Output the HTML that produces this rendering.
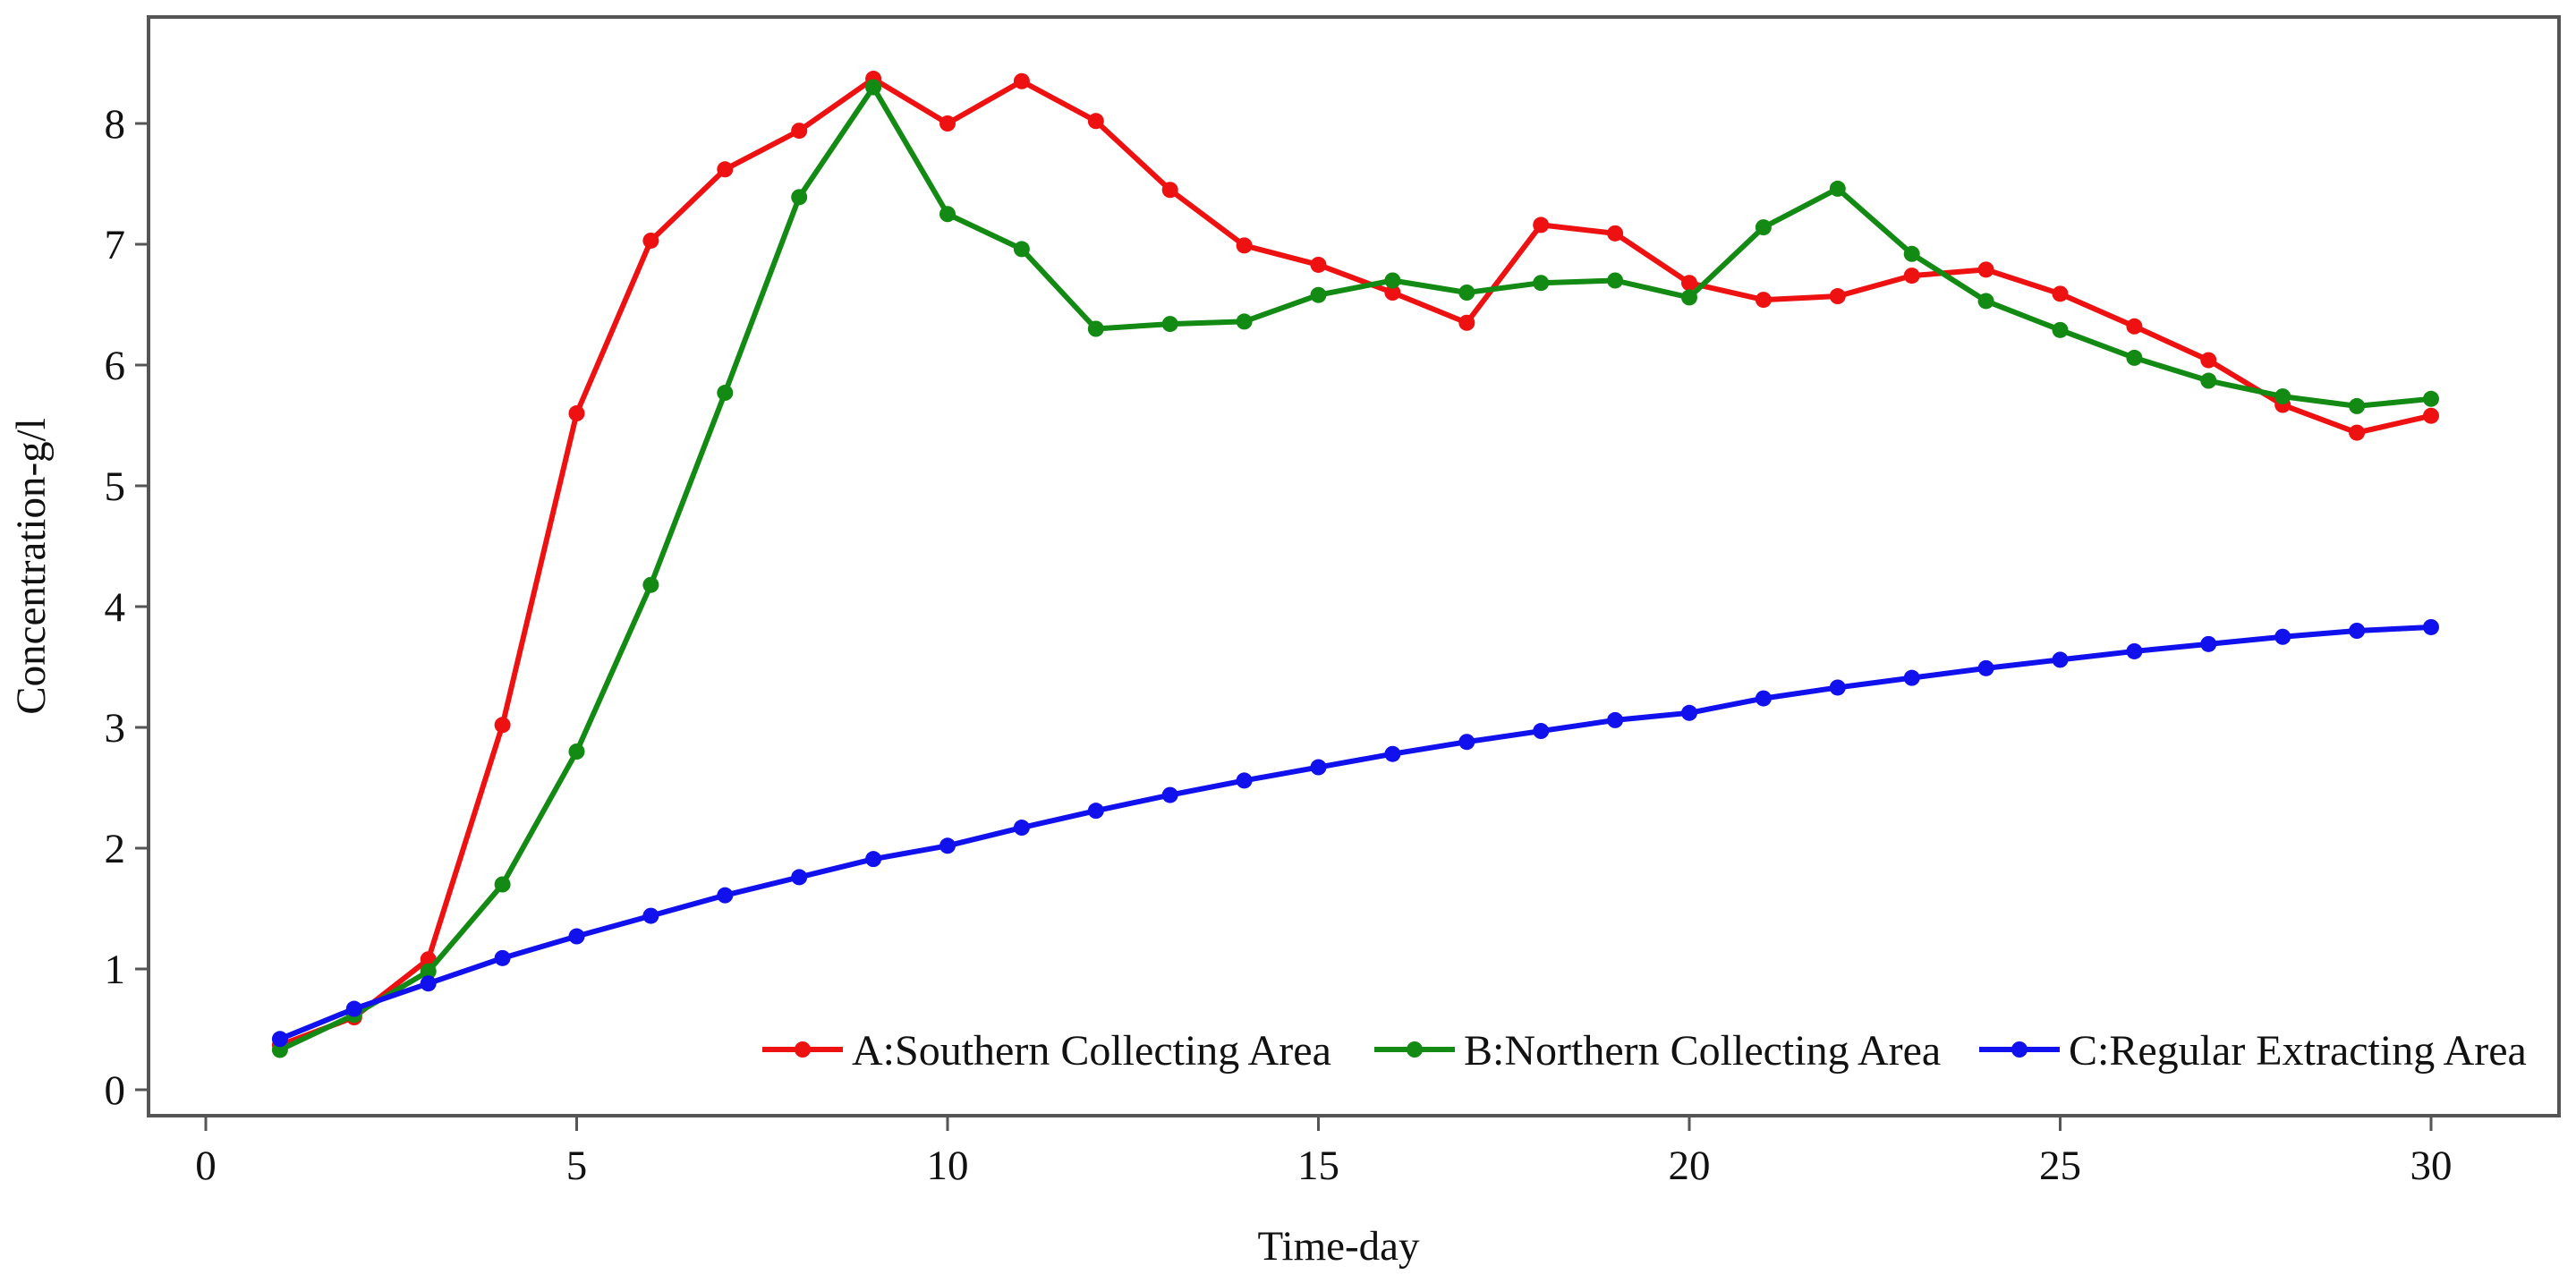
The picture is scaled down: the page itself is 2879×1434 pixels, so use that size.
<!DOCTYPE html>
<html><head><meta charset="utf-8"><style>
html,body{margin:0;padding:0;background:#fff;}
svg{display:block;font-family:"Liberation Serif",serif;}
</style></head><body>
<svg id="chart" width="2879" height="1434" viewBox="0 0 2879 1434">
<rect x="166" y="19" width="2694" height="1228" fill="#fff" stroke="#555" stroke-width="4"/>
<g id="axes"></g>
<g id="series"></g>
<g id="legend"></g>
<text x="1496" y="1408" font-size="47" text-anchor="middle" fill="#111">Time-day</text>
<text x="0" y="0" font-size="47" text-anchor="middle" fill="#111" transform="translate(50,633) rotate(-90)">Concentration-g/l</text>
</svg>
<script>
const days = [1,2,3,4,5,6,7,8,9,10,11,12,13,14,15,16,17,18,19,20,21,22,23,24,25,26,27,28,29,30];
const seriesA = [0.37,0.6,1.08,3.02,5.6,7.03,7.62,7.94,8.37,8.0,8.35,8.02,7.45,6.99,6.83,6.6,6.35,7.16,7.09,6.68,6.54,6.57,6.74,6.79,6.59,6.32,6.04,5.67,5.44,5.58];
const seriesB = [0.33,0.62,0.98,1.7,2.8,4.18,5.77,7.39,8.3,7.25,6.96,6.3,6.34,6.36,6.58,6.7,6.6,6.68,6.7,6.56,7.14,7.46,6.92,6.53,6.29,6.06,5.87,5.74,5.66,5.72];
const seriesC = [0.42,0.67,0.88,1.09,1.27,1.44,1.61,1.76,1.91,2.02,2.17,2.31,2.44,2.56,2.67,2.78,2.88,2.97,3.06,3.12,3.24,3.33,3.41,3.49,3.56,3.63,3.69,3.75,3.8,3.83];
const xTicks = [0,5,10,15,20,25,30];
const yTicks = [0,1,2,3,4,5,6,7,8];
const seriesNames = ["A:Southern Collecting Area","B:Northern Collecting Area","C:Regular Extracting Area"];

const NS = "http://www.w3.org/2000/svg";
function xs(d){ return 230 + 82.9*d; }
function ys(v){ return 1218 - 135*v; }
function mk(tag, attrs, parent){ const e=document.createElementNS(NS,tag); for(const k in attrs) e.setAttribute(k,attrs[k]); parent.appendChild(e); return e; }

const axes = document.getElementById('axes');
xTicks.forEach(t=>{
  const l = mk('line',{x1:xs(t),x2:xs(t),y1:1249,y2:1264,stroke:'#555','stroke-width':3},axes);
  
  
  const tx = mk('text',{x:xs(t),y:1318,'font-size':47,'text-anchor':'middle',fill:'#111'},axes);
  tx.textContent = t;
  
  
});
yTicks.forEach(t=>{
  const l = mk('line',{x1:151,x2:166,y1:ys(t),y2:ys(t),stroke:'#555','stroke-width':3},axes);
  
  
  const tx = mk('text',{x:140,y:ys(t)+16,'font-size':47,'text-anchor':'end',fill:'#111'},axes);
  tx.textContent = t;
  
  
});

const colors = ['#ee1111','#138a13','#1111ee'];
const data = [seriesA, seriesB, seriesC];
const sg = document.getElementById('series');
data.forEach((s,i)=>{
  const g = mk('g',{},sg);
  
  
  const pts = s.map((v,j)=>xs(days[j])+','+ys(v)).join(' ');
  const pl = mk('polyline',{points:pts,fill:'none',stroke:colors[i],'stroke-width':6,'stroke-linejoin':'round'},g);
  
  
  s.forEach((v,j)=>{
    const c = mk('circle',{cx:xs(days[j]),cy:ys(v),r:9,fill:colors[i]},g);
    
    
  });
});

const lg = document.getElementById('legend');


const legX = [852,1536,2212];
seriesNames.forEach((n,i)=>{
  const g = mk('g',{},lg);
  
  
  const y = 1173;
  mk('line',{x1:legX[i],x2:legX[i]+90,y1:y,y2:y,stroke:colors[i],'stroke-width':6},g);
  mk('circle',{cx:legX[i]+45,cy:y,r:9,fill:colors[i]},g);
  const t = mk('text',{x:legX[i]+100,y:y+17,'font-size':48,fill:'#111'},g);
  t.textContent = n;
});
</script>
</body></html>
